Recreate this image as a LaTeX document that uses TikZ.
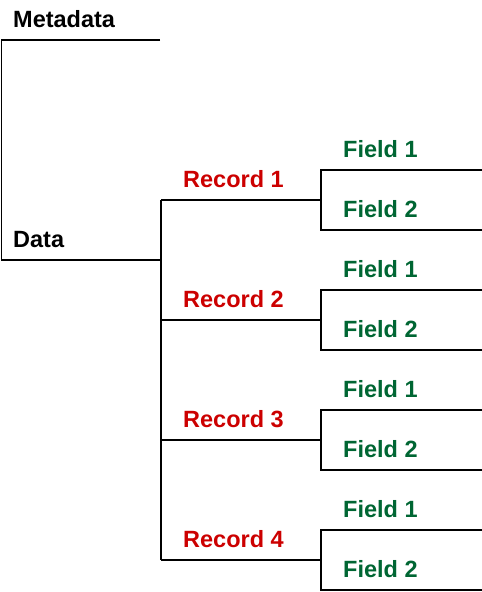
\documentclass[tikz,border=0pt]{standalone}
\usepackage{fontspec}
\setmainfont{Liberation Sans}
\usetikzlibrary{positioning}
\definecolor{recordred}{RGB}{204,0,0}
\definecolor{fieldgreen}{RGB}{0,102,51}
\tikzset{
    branch/.style = {draw=black, line width=1.1pt},
    label/.style = {anchor=base west, inner sep=0pt, font={\fontsize{23.5}{27}\selectfont\bfseries}},
    toplabel/.style = {label, black},
    recordlabel/.style = {label, recordred},
    fieldlabel/.style = {label, fieldgreen}
}

\begin{document}
\begin{tikzpicture}[x=1pt, y=-1pt]
        \useasboundingbox (0,0) rectangle (482,592);

        % root
        \coordinate (meta) at (1.5,40);
        \coordinate (data) at (1.5,260);
        \coordinate (metaend) at (160,40);
        \coordinate (dataend) at (161,260);
        \draw[branch] (metaend) -- (meta) -- (data) -- (dataend);
        \node[toplabel] (metalabel) at (13,27) {Metadata};
        \node[toplabel] (datalabel) at (13,247) {Data};

        % records
        \coordinate (rtop) at (161,200);
        \coordinate (rbot) at (161,560);
        \draw[branch] (rtop) -- (rbot);
        \foreach \i in {1,2,3,4} {
            \pgfmathsetmacro{\y}{200+120*(\i-1)}
            \coordinate (r\i) at (161,\y);
            \coordinate (f\i) at (321,\y);
            \coordinate (f\i a) at (321,\y-30);
            \coordinate (f\i b) at (321,\y+30);
            \coordinate (f\i aend) at (482,\y-30);
            \coordinate (f\i bend) at (482,\y+30);
            \draw[branch] (r\i) -- (f\i);
            \draw[branch] (f\i aend) -- (f\i a) -- (f\i b) -- (f\i bend);
            \node[recordlabel] (record\i) at (183,\y-13) {Record \i};
            \node[fieldlabel] (field\i a) at (343,\y-43) {Field 1};
            \node[fieldlabel] (field\i b) at (343,\y+17) {Field 2};
        }
    \end{tikzpicture}
\end{document}
